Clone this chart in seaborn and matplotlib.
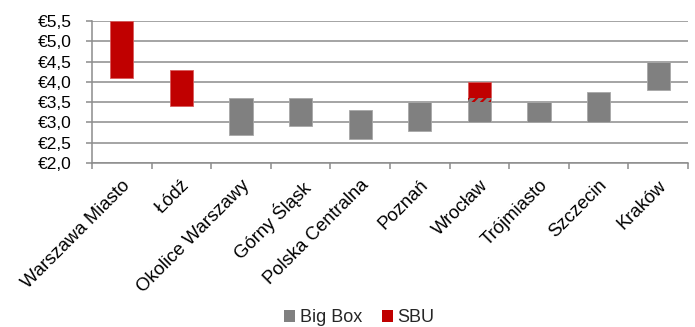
import matplotlib
matplotlib.use("Agg")
import matplotlib.pyplot as plt
from matplotlib.patches import Patch
import numpy as np
import pandas as pd
import seaborn as sns

# Rent ranges (EUR per sqm per month) by region
categories = ["Warszawa Miasto", "Łódź", "Okolice Warszawy", "Górny Śląsk",
              "Polska Centralna", "Poznań", "Wrocław", "Trójmiasto",
              "Szczecin", "Kraków"]

bigbox_regions = ["Okolice Warszawy", "Górny Śląsk", "Polska Centralna",
                  "Poznań", "Wrocław", "Trójmiasto", "Szczecin", "Kraków"]
bigbox_low = [2.7, 2.9, 2.6, 2.8, 3.0, 3.0, 3.0, 3.8]
bigbox_high = [3.6, 3.6, 3.3, 3.5, 3.6, 3.5, 3.75, 4.5]

sbu_regions = ["Warszawa Miasto", "Łódź", "Wrocław"]
sbu_low = [4.1, 3.4, 3.5]
sbu_high = [5.5, 4.3, 4.0]

y_ticks = [2.0, 2.5, 3.0, 3.5, 4.0, 4.5, 5.0, 5.5]

GREY = "#808080"
RED = "#C00000"
GRID = "#8c8c8c"

sns.set_theme(style="white")
plt.rcParams["font.family"] = ["Liberation Sans", "DejaVu Sans"]
plt.rcParams["hatch.linewidth"] = 1.6

big = pd.DataFrame({"region": bigbox_regions, "low": bigbox_low, "high": bigbox_high})
big["span"] = big["high"] - big["low"]
sbu = pd.DataFrame({"region": sbu_regions, "low": sbu_low, "high": sbu_high})
sbu["span"] = sbu["high"] - sbu["low"]

# overlap of the two ranges (shown hatched)
ov = big.merge(sbu, on="region", suffixes=("_b", "_s"))
ov["low"] = np.maximum(ov["low_b"], ov["low_s"])
ov["high"] = np.minimum(ov["high_b"], ov["high_s"])
ov = ov[ov["high"] > ov["low"]].copy()
ov["span"] = ov["high"] - ov["low"]

fig = plt.figure(figsize=(6.95, 3.27), dpi=100)
ax = fig.add_axes([92 / 695, (327 - 163) / 327, (688 - 92) / 695, (163 - 21) / 327])

# horizontal grid below bars
ax.set_axisbelow(True)
ax.yaxis.grid(True, color=GRID, linewidth=1.1)

bar_w = 0.39
sns.barplot(data=sbu, x="region", y="span", bottom=sbu["low"].values, order=categories,
            color=RED, saturation=1, width=bar_w, edgecolor="#d85c5c", linewidth=0.6,
            ax=ax, zorder=2)
sns.barplot(data=big, x="region", y="span", bottom=big["low"].values, order=categories,
            color=GREY, saturation=1, width=bar_w, edgecolor="#a8a8a8", linewidth=0.6,
            ax=ax, zorder=3)
if len(ov):
    sns.barplot(data=ov, x="region", y="span", bottom=ov["low"].values, order=categories,
                color=GREY, saturation=1, width=bar_w, edgecolor=RED, linewidth=0,
                hatch="////", ax=ax, zorder=4)

ax.set_xlim(-0.5, len(categories) - 0.5)
ax.set_ylim(y_ticks[0], y_ticks[-1])
ax.set_yticks(y_ticks)
ax.set_yticklabels([f"€{v:.1f}".replace(".", ",") for v in y_ticks])
ax.set_xlabel("")
ax.set_ylabel("")

ax.set_xticks(range(len(categories)))
ax.set_xticklabels(categories, rotation=45, ha="right", va="top",
                   rotation_mode="anchor")
ax.set_xticks(np.arange(-0.5, len(categories)), minor=True)
ax.tick_params(axis="x", which="major", length=0, pad=10, labelsize=13.3, colors="black")
ax.tick_params(axis="x", which="minor", length=4.5, width=1.1, color=GRID, direction="out", bottom=True)
ax.tick_params(axis="y", length=4.5, width=1.1, color=GRID, direction="out", left=True,
               pad=10, labelsize=12.5, labelcolor="black")

for side in ["top", "right"]:
    ax.spines[side].set_visible(False)
for side in ["left", "bottom"]:
    ax.spines[side].set_color(GRID)
    ax.spines[side].set_linewidth(1.1)

handles = [Patch(facecolor=GREY, edgecolor="none", label="Big Box"),
           Patch(facecolor=RED, edgecolor="none", label="SBU")]
fig.legend(handles=handles, loc="center", bbox_to_anchor=(0.517, 1 - 318 / 327), ncol=2,
           frameon=False, fontsize=13, handlelength=0.6, handleheight=0.6,
           handletextpad=0.25, columnspacing=1.1, borderaxespad=0)

fig.savefig("out.png", dpi=100)
